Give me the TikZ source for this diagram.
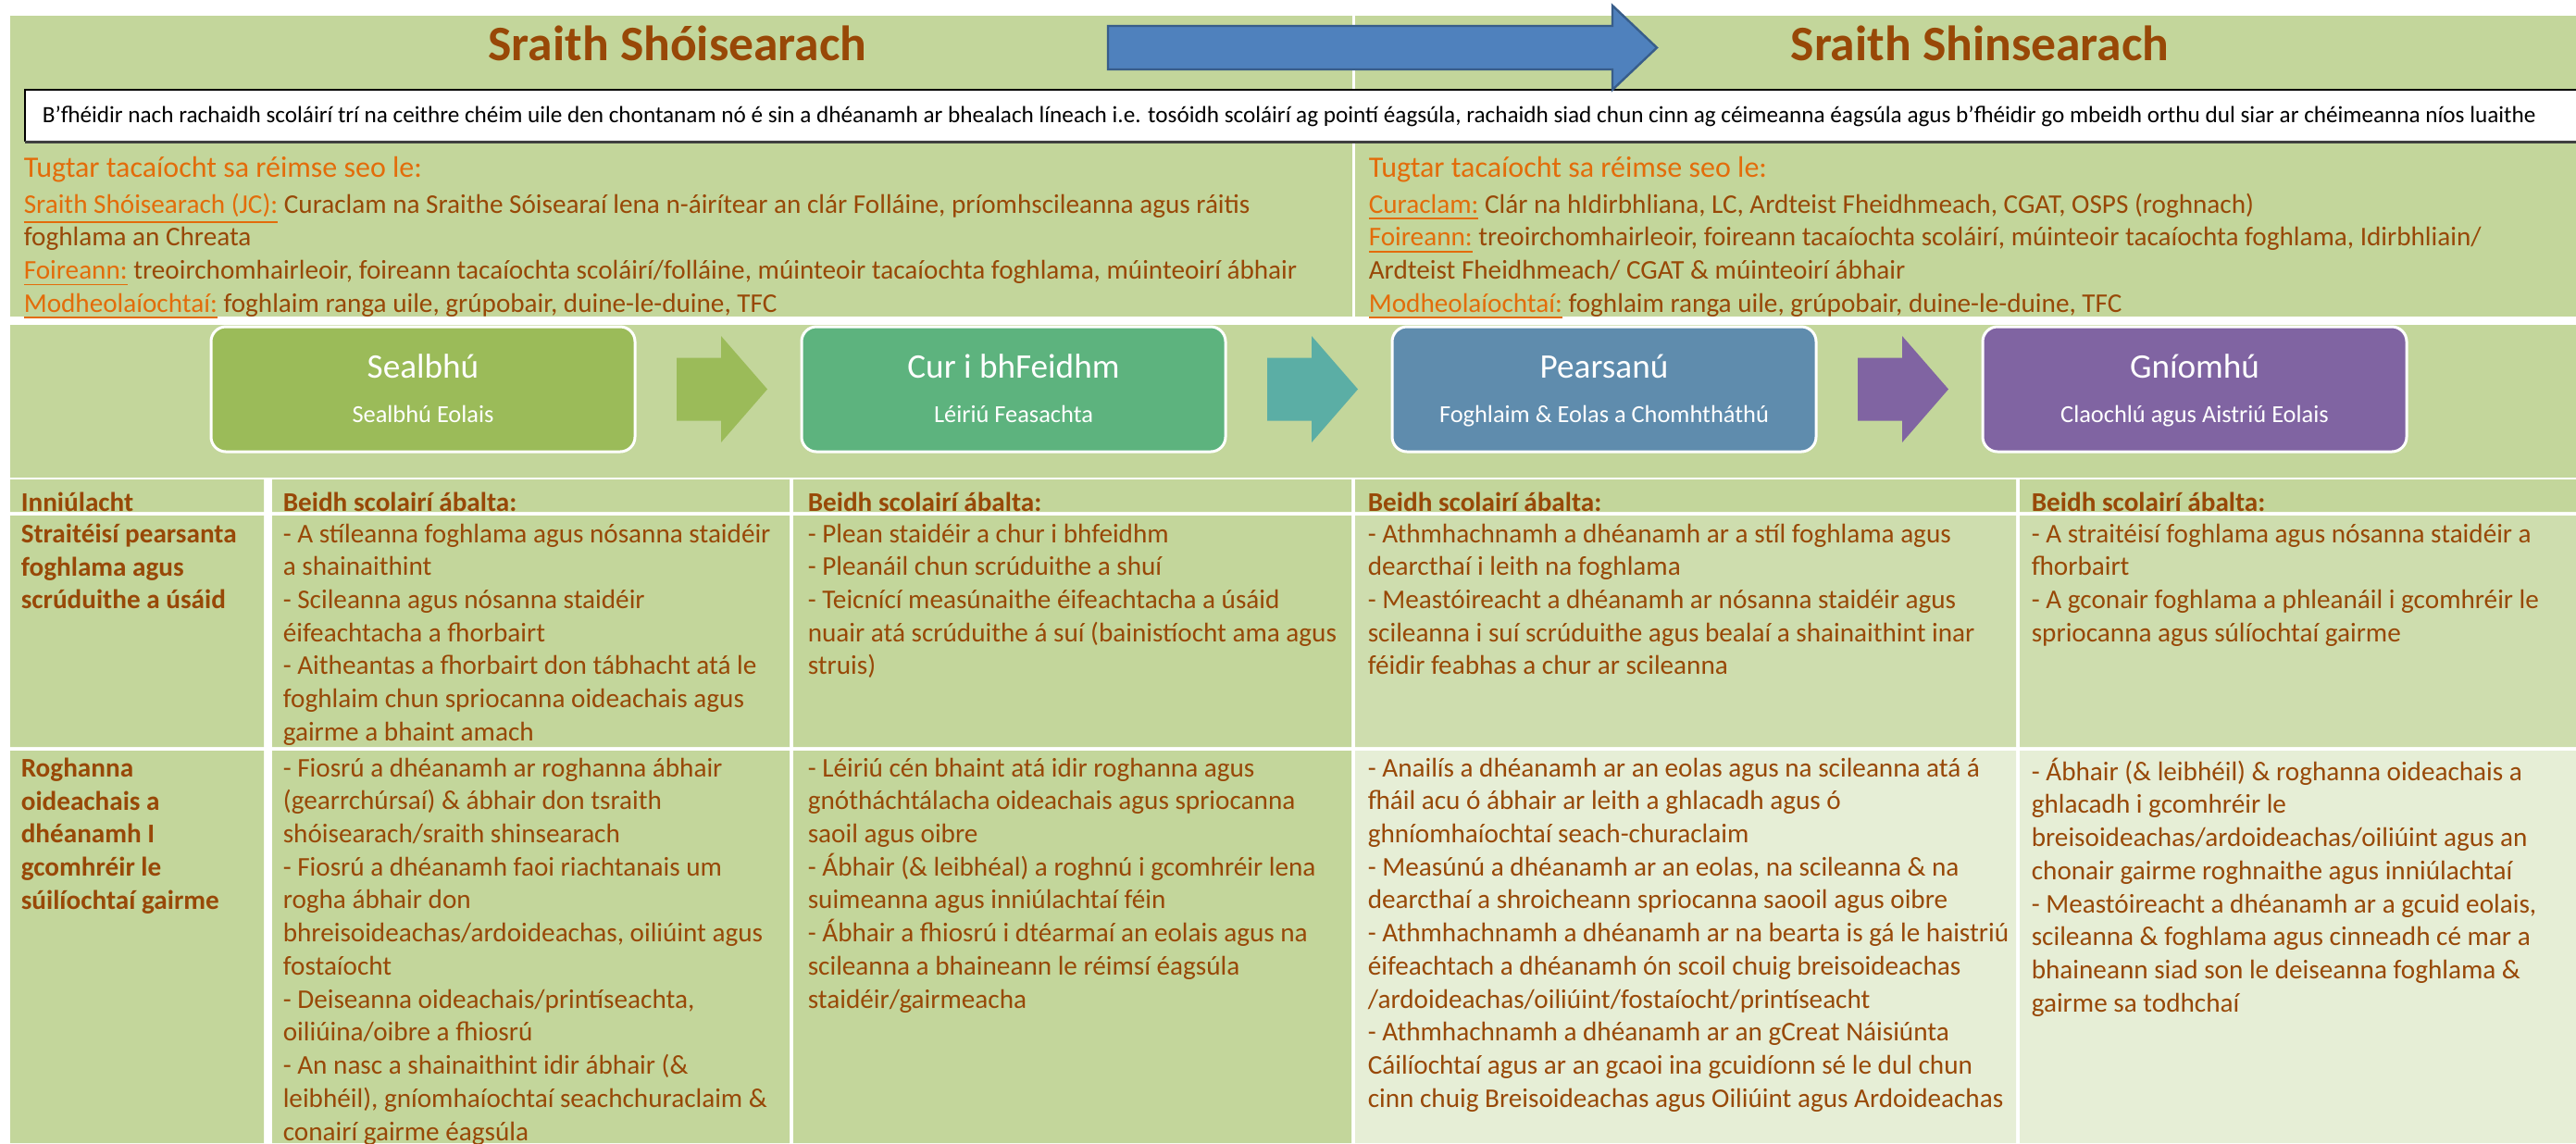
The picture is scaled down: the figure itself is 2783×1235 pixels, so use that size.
\documentclass[tikz,border=0pt]{standalone}
\usepackage{fontspec}
\setmainfont{Carlito}
\usepackage{tikz}
\usetikzlibrary{positioning, calc}

\definecolor{panelgreen}{HTML}{C3D69B}
\definecolor{cellmid}{HTML}{CEDDAE}
\definecolor{cellpale}{HTML}{E6EED6}
\definecolor{textbrown}{HTML}{984807}
\definecolor{labelorange}{HTML}{E36C0A}
\definecolor{bandblue}{HTML}{4F81BD}
\definecolor{bandblueline}{HTML}{385D8A}
\definecolor{stepA}{HTML}{9BBB59}
\definecolor{stepB}{HTML}{5DB37E}
\definecolor{stepC}{HTML}{5F8CAD}
\definecolor{stepD}{HTML}{8064A2}
\definecolor{arrowB}{HTML}{5BAEA5}

\newcommand{\hdlabel}[1]{\textcolor{labelorange}{\underline{#1}}}

\begin{document}
\begin{tikzpicture}[x=0.25pt, y=-0.25pt,
    stagehead/.style={anchor=base, inner sep=0pt, text=textbrown, font=\fontsize{13.4}{16}\selectfont\bfseries},
    supporthead/.style={anchor=base west, inner sep=0pt, text=labelorange, font=\fontsize{8}{9.8}\selectfont},
    celltext/.style={anchor=north west, inner sep=0pt, align=left, text=textbrown, font=\fontsize{7.3}{8.93}\selectfont, execute at begin node=\strut},
    cellbold/.style={celltext, font=\fontsize{7.3}{8.93}\selectfont\bfseries},
    stepbox/.style={rectangle, rounded corners=4pt, draw=white, line width=0.75pt, minimum width=114.5pt, minimum height=33.75pt, inner sep=0pt, outer sep=0pt},
    steptitle/.style={anchor=base, inner sep=0pt, text=white, font=\fontsize{9.3}{11.3}\selectfont},
    stepsub/.style={anchor=base, inner sep=0pt, text=white, font=\fontsize{6.6}{8}\selectfont}]
    \useasboundingbox (0,0) rectangle (2783,1235);

    % Panels
    \fill[panelgreen] (11,17) rectangle (2783,342);
    \fill[white] (1461,17) rectangle (1464,342);
    \fill[panelgreen] (11,351) rectangle (2783,516);
    \fill[panelgreen] (11,518) rectangle (285,553) (294,518) rectangle (853,553) (857,518) rectangle (1460,553)
        (1464,518) rectangle (2178,553) (2182,518) rectangle (2783,553);
    \fill[panelgreen] (11,557) rectangle (285,807) (294,557) rectangle (853,807) (857,557) rectangle (1460,807);
    \fill[cellmid] (1464,557) rectangle (2178,807) (2182,557) rectangle (2783,807);
    \fill[panelgreen] (11,811) rectangle (285,1235) (294,811) rectangle (853,1235) (857,811) rectangle (1460,1235);
    \fill[cellpale] (1464,811) rectangle (2178,1235) (2182,811) rectangle (2783,1235);

    % Note box and arrow
    \fill[white] (27,97) rectangle (2783,153);
    \draw[black, line width=0.3pt] (2783,97) -- (27,97) -- (27,153);
    \draw[black!75, line width=0.75pt] (27,153) -- (2783,153);
    \filldraw[fill=bandblue, draw=bandblueline, line width=0.6pt]
        (1197,28) -- (1742,28) -- (1742,6) -- (1790,51.5) -- (1742,97) -- (1742,75) -- (1197,75) -- cycle;

    % Nodes
    \node[stagehead] (juniorT) at (732,65) {Sraith Shóisearach};
    \node[stagehead] (seniorT) at (2139,65) {Sraith Shinsearach};
    \node[anchor=base west, inner sep=0pt, font=\fontsize{6.3}{7.7}\selectfont] (note) at (45,132)
        {B’fhéidir nach rachaidh scoláirí trí na ceithre chéim uile den chontanam nó é sin a dhéanamh ar bhealach líneach i.e. tosóidh scoláirí ag pointí éagsúla, rachaidh siad chun cinn ag céimeanna éagsúla agus b’fhéidir go mbeidh orthu dul siar ar chéimeanna níos luaithe};

    \node[supporthead] (juniorS) at (25,191) {Tugtar tacaíocht sa réimse seo le:};
    \node[celltext] (juniorL) at (25,208) {\hdlabel{Sraith Shóisearach (JC):} Curaclam na Sraithe Sóisearaí lena n-áirítear an clár Folláine, príomhscileanna agus ráitis\\
        foghlama an Chreata\\
        \hdlabel{Foireann:} treoirchomhairleoir, foireann tacaíochta scoláirí/folláine, múinteoir tacaíochta foghlama, múinteoirí ábhair\\
        \hdlabel{Modheolaíochtaí:} foghlaim ranga uile, grúpobair, duine-le-duine, TFC};
    \node[supporthead] (seniorS) at (1478,191) {Tugtar tacaíocht sa réimse seo le:};
    \node[celltext] (seniorL) at (1478,208) {\hdlabel{Curaclam:} Clár na hIdirbhliana, LC, Ardteist Fheidhmeach, CGAT, OSPS (roghnach)\\
        \hdlabel{Foireann:} treoirchomhairleoir, foireann tacaíochta scoláirí, múinteoir tacaíochta foghlama, Idirbhliain/\\
        Ardteist Fheidhmeach/ CGAT \& múinteoirí ábhair\\
        \hdlabel{Modheolaíochtaí:} foghlaim ranga uile, grúpobair, duine-le-duine, TFC};

    % Steps
    \node[stepbox, fill=stepA] (sealbhu) at (457,420.5) {};
    \node[stepbox, fill=stepB, right=45pt of sealbhu] (feidhm) {};
    \node[stepbox, fill=stepC, right=45pt of feidhm] (pearsanu) {};
    \node[stepbox, fill=stepD, right=45pt of pearsanu] (gniomhu) {};
    \node[steptitle] (sealbhuT) at ([yshift=3.1pt]sealbhu.center) {Sealbhú};
    \node[stepsub] (sealbhuS) at ([yshift=-9.1pt]sealbhu.center) {Sealbhú Eolais};
    \node[steptitle] (feidhmT) at ([yshift=3.1pt]feidhm.center) {Cur i bhFeidhm};
    \node[stepsub] (feidhmS) at ([yshift=-9.1pt]feidhm.center) {Léiriú Feasachta};
    \node[steptitle] (pearsanuT) at ([yshift=3.1pt]pearsanu.center) {Pearsanú};
    \node[stepsub] (pearsanuS) at ([yshift=-9.1pt]pearsanu.center) {Foghlaim \& Eolas a Chomhtháthú};
    \node[steptitle] (gniomhuT) at ([yshift=3.1pt]gniomhu.center) {Gníomhú};
    \node[stepsub] (gniomhuS) at ([yshift=-9.1pt]gniomhu.center) {Claochlú agus Aistriú Eolais};

    % Arrows
    \fill[stepA] ($(sealbhu.east)+(45,-34)$) -- ++(48,0) -- ++(0,-23.5) -- ($(sealbhu.east)+(143,0)$)
        -- ($(sealbhu.east)+(93,57.5)$) -- ++(0,-23.5) -- ($(sealbhu.east)+(45,34)$) -- cycle;
    \fill[arrowB] ($(feidhm.east)+(45,-34)$) -- ++(48,0) -- ++(0,-23.5) -- ($(feidhm.east)+(143,0)$)
        -- ($(feidhm.east)+(93,57.5)$) -- ++(0,-23.5) -- ($(feidhm.east)+(45,34)$) -- cycle;
    \fill[stepD] ($(pearsanu.east)+(45,-34)$) -- ++(48,0) -- ++(0,-23.5) -- ($(pearsanu.east)+(143,0)$)
        -- ($(pearsanu.east)+(93,57.5)$) -- ++(0,-23.5) -- ($(pearsanu.east)+(45,34)$) -- cycle;

    % Table
    \node[cellbold] (hInn) at (22,527) {Inniúlacht};
    \node[cellbold] (hSealbhu) at (305,527) {Beidh scolairí ábalta:};
    \node[cellbold] (hFeidhm) at (872,527) {Beidh scolairí ábalta:};
    \node[cellbold] (hPearsanu) at (1477,527) {Beidh scolairí ábalta:};
    \node[cellbold] (hGniomhu) at (2194,527) {Beidh scolairí ábalta:};

    \node[cellbold] (strat) at (22,565) {Straitéisí pearsanta\\ foghlama agus\\ scrúduithe a úsáid};
    \node[celltext] (stratA) at (305,565) {- A stíleanna foghlama agus nósanna staidéir\\
        a shainaithint\\
        - Scileanna agus nósanna staidéir\\
        éifeachtacha a fhorbairt\\
        - Aitheantas a fhorbairt don tábhacht atá le\\
        foghlaim chun spriocanna oideachais agus\\
        gairme a bhaint amach};
    \node[celltext] (stratB) at (872,565) {- Plean staidéir a chur i bhfeidhm\\
        - Pleanáil chun scrúduithe a shuí\\
        - Teicnící measúnaithe éifeachtacha a úsáid\\
        nuair atá scrúduithe á suí (bainistíocht ama agus\\
        struis)};
    \node[celltext] (stratC) at (1477,565) {- Athmhachnamh a dhéanamh ar a stíl foghlama agus\\
        dearcthaí i leith na foghlama\\
        - Meastóireacht a dhéanamh ar nósanna staidéir agus\\
        scileanna i suí scrúduithe agus bealaí a shainaithint inar\\
        féidir feabhas a chur ar scileanna};
    \node[celltext] (stratD) at (2194,565) {- A straitéisí foghlama agus nósanna staidéir a\\
        fhorbairt\\
        - A gconair foghlama a phleanáil i gcomhréir le\\
        spriocanna agus súlíochtaí gairme};

    \node[cellbold] (rogh) at (22,818) {Roghanna\\ oideachais a\\ dhéanamh I\\ gcomhréir le\\ súilíochtaí gairme};
    \node[celltext] (roghA) at (305,818) {- Fiosrú a dhéanamh ar roghanna ábhair\\
        (gearrchúrsaí) \& ábhair don tsraith\\
        shóisearach/sraith shinsearach\\
        - Fiosrú a dhéanamh faoi riachtanais um\\
        rogha ábhair don\\
        bhreisoideachas/ardoideachas, oiliúint agus\\
        fostaíocht\\
        - Deiseanna oideachais/printíseachta,\\
        oiliúina/oibre a fhiosrú\\
        - An nasc a shainaithint idir ábhair (\&\\
        leibhéil), gníomhaíochtaí seachchuraclaim \&\\
        conairí gairme éagsúla};
    \node[celltext] (roghB) at (872,818) {- Léiriú cén bhaint atá idir roghanna agus\\
        gnótháchtálacha oideachais agus spriocanna\\
        saoil agus oibre\\
        - Ábhair (\& leibhéal) a roghnú i gcomhréir lena\\
        suimeanna agus inniúlachtaí féin\\
        - Ábhair a fhiosrú i dtéarmaí an eolais agus na\\
        scileanna a bhaineann le réimsí éagsúla\\
        staidéir/gairmeacha};
    \node[celltext] (roghC) at (1477,818) {- Anailís a dhéanamh ar an eolas agus na scileanna atá á\\
        fháil acu ó ábhair ar leith a ghlacadh agus ó\\
        ghníomhaíochtaí seach-churaclaim\\
        - Measúnú a dhéanamh ar an eolas, na scileanna \& na\\
        dearcthaí a shroicheann spriocanna saooil agus oibre\\
        - Athmhachnamh a dhéanamh ar na bearta is gá le haistriú\\
        éifeachtach a dhéanamh ón scoil chuig breisoideachas\\
        /ardoideachas/oiliúint/fostaíocht/printíseacht\\
        - Athmhachnamh a dhéanamh ar an gCreat Náisiúnta\\
        Cáilíochtaí agus ar an gcaoi ina gcuidíonn sé le dul chun\\
        cinn chuig Breisoideachas agus Oiliúint agus Ardoideachas};
    \node[celltext] (roghD) at (2194,818) {- Ábhair (\& leibhéil) \& roghanna oideachais a\\
        ghlacadh i gcomhréir le\\
        breisoideachas/ardoideachas/oiliúint agus an\\
        chonair gairme roghnaithe agus inniúlachtaí\\
        - Meastóireacht a dhéanamh ar a gcuid eolais,\\
        scileanna \& foghlama agus cinneadh cé mar a\\
        bhaineann siad son le deiseanna foghlama \&\\
        gairme sa todhchaí};
\end{tikzpicture}
\end{document}
